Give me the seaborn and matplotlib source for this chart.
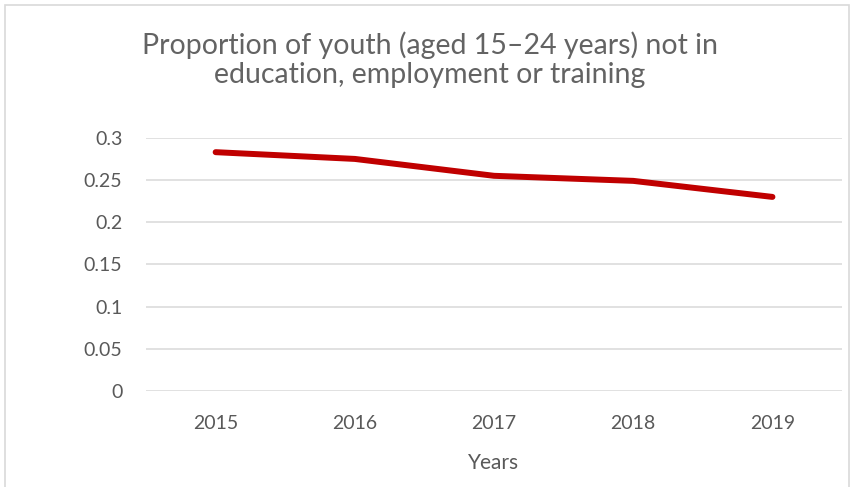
import pandas as pd
import matplotlib.pyplot as plt
import seaborn as sns
from matplotlib.patches import Rectangle

years = ['2015', '2016', '2017', '2018', '2019']
neet_share = [0.283, 0.275, 0.255, 0.249, 0.230]
y_ticks = [0, 0.05, 0.1, 0.15, 0.2, 0.25, 0.3]
y_tick_labels = ['0', '0.05', '0.1', '0.15', '0.2', '0.25', '0.3']

df = pd.DataFrame({'Years': years, 'Proportion': neet_share})

sns.set_style('white')
plt.rcParams['font.family'] = ['Lato', 'DejaVu Sans']
text_col = '#595959'

fig = plt.figure(figsize=(8.54, 4.87), dpi=100)
ax = fig.add_axes([0.171, 0.197, 0.815, 0.52])

sns.lineplot(data=df, x='Years', y='Proportion', ax=ax, color='#C00000',
             linewidth=4.3, solid_capstyle='round', solid_joinstyle='round')

ax.set_ylim(0, 0.3)
ax.set_xlim(-0.5, 4.5)
ax.set_yticks(y_ticks)
ax.set_yticklabels(y_tick_labels)
ax.yaxis.grid(True, color='#D9D9D9', linewidth=1.1)
ax.set_axisbelow(True)
for s in ax.spines.values():
    s.set_visible(False)
ax.tick_params(axis='both', length=0, labelsize=14, colors=text_col)
ax.tick_params(axis='x', pad=17)
ax.tick_params(axis='y', pad=17)
ax.set_xlabel('Years', fontsize=15, color=text_col, labelpad=15)
ax.set_ylabel('')

fig.text(0.503, 0.877, 'Proportion of youth (aged 15–24 years) not in\neducation, employment or training',
         ha='center', va='center', fontsize=20.5, color='#636363', linespacing=1.15)

fig.patches.append(Rectangle((0.006, -0.05), 0.988, 1.04, transform=fig.transFigure,
                             fill=False, edgecolor='#D9D9D9', linewidth=1.2))

fig.savefig('out.png', dpi=100)
